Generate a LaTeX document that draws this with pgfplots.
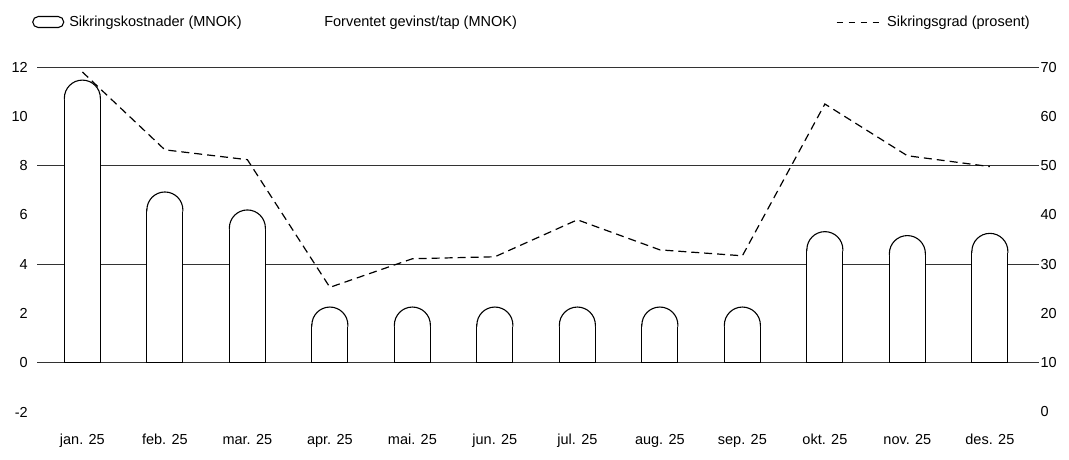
\documentclass[border=0pt]{standalone}
\usepackage{pgfplots}
\usepackage{pgfplotstable}
\pgfplotsset{compat=1.18}
\usepackage{fontspec}
\setmainfont{Liberation Sans}

% month index, cost (MNOK), hedge ratio (percent)
\pgfplotstableread{
m cost grad
0 11.47 69.0
1 6.93 53.2
2 6.20 51.2
3 2.26 25.3
4 2.26 31.1
5 2.26 31.5
6 2.26 39.0
7 2.26 32.9
8 2.26 31.7
9 5.32 62.5
10 5.16 52.0
11 5.25 49.8
}\sikring

% rounded top of a bar, the arc peaks at the mark position
\pgfdeclareplotmark{pilltop}{%
  \pgfpathmoveto{\pgfqpoint{-18bp}{-19.5bp}}%
  \pgfpathlineto{\pgfqpoint{-18bp}{-18bp}}%
  \pgfpatharc{180}{0}{18bp}%
  \pgfpathlineto{\pgfqpoint{18bp}{-19.5bp}}%
  \pgfusepathqfillstroke}

\pgfplotsset{
  base/.style={
    at={(37bp,-412bp)}, anchor=south west,
    x=82.5bp, xmin=-0.55, xmax=11.6,
    axis line style={draw=none},
    major tick length=0pt,
    tick style={draw=none},
    ticklabel style={font=\fontsize{14.5bp}{17bp}\selectfont},
    /pgf/number format/assume math mode=true,
  },
}

\begin{document}
\begin{tikzpicture}
\path[use as bounding box] (0,0) rectangle (1069bp,-460bp);

\begin{axis}[base,
  y=24.64bp, ymin=-2, ymax=12,
  ytick={0,4,8,12},
  ymajorgrids,
  major grid style={black!80, line width=0.8bp},
  extra y ticks={-2,2,6,10},
  extra y tick style={grid=none},
  yticklabel style={inner sep=0pt, xshift=-9bp},
  xtick={0,...,11},
  xticklabels={jan. 25,feb. 25,mar. 25,apr. 25,mai. 25,jun. 25,jul. 25,aug. 25,sep. 25,okt. 25,nov. 25,des. 25},
  xticklabel style={inner sep=0pt, yshift=-22bp},
  legend columns=2,
  legend style={at={(axis description cs:0,1)}, anchor=west, xshift=-5bp, yshift=45bp,
    draw=none, fill=none, inner sep=0pt, column sep=0pt,
    font=\fontsize{14.5bp}{17bp}\selectfont,
    nodes={inner sep=0pt, anchor=west}},
]
\addplot[ybar, bar width=36bp, bar shift=0pt, draw=black, fill=white, line width=1.1bp,
  legend image code/.code={\draw[line width=1.1bp, rounded corners=5.5bp] (0bp,-5.5bp) rectangle (31bp,5.5bp);}]
  table[x=m, y expr=\thisrow{cost}-0.73] {\sikring};
\addlegendentry{\hspace{5bp}\makebox[255bp][l]{Sikringskostnader (MNOK)}}
\addplot[only marks, mark=pilltop, mark options={draw=black, fill=white, line width=1.1bp}, forget plot]
  table[x=m, y=cost] {\sikring};
\addlegendimage{empty legend}
\addlegendentry{Forventet gevinst/tap (MNOK)}
\end{axis}

\begin{axis}[base,
  y=4.928bp, ymin=0, ymax=70,
  axis y line*=right,
  axis x line=none,
  ytick={0,10,...,70},
  yticklabel style={inner sep=0pt, xshift=1bp},
  xtick=\empty,
  legend style={at={(axis description cs:1,1)}, anchor=east, xshift=-2bp, yshift=45bp,
    draw=none, fill=none, inner sep=0pt,
    font=\fontsize{14.5bp}{17bp}\selectfont,
    nodes={inner sep=0pt, anchor=west}},
]
\addplot[black, line width=1.2bp, dash pattern=on 8bp off 5bp, mark=none,
  legend image code/.code={\draw[line width=1bp, dash pattern=on 6bp off 6bp] (0bp,0bp) -- (43bp,0bp);}]
  table[x=m, y=grad] {\sikring};
\addlegendentry{\hspace{7bp}\makebox[150bp][l]{Sikringsgrad (prosent)}}
\end{axis}
\end{tikzpicture}
\end{document}
